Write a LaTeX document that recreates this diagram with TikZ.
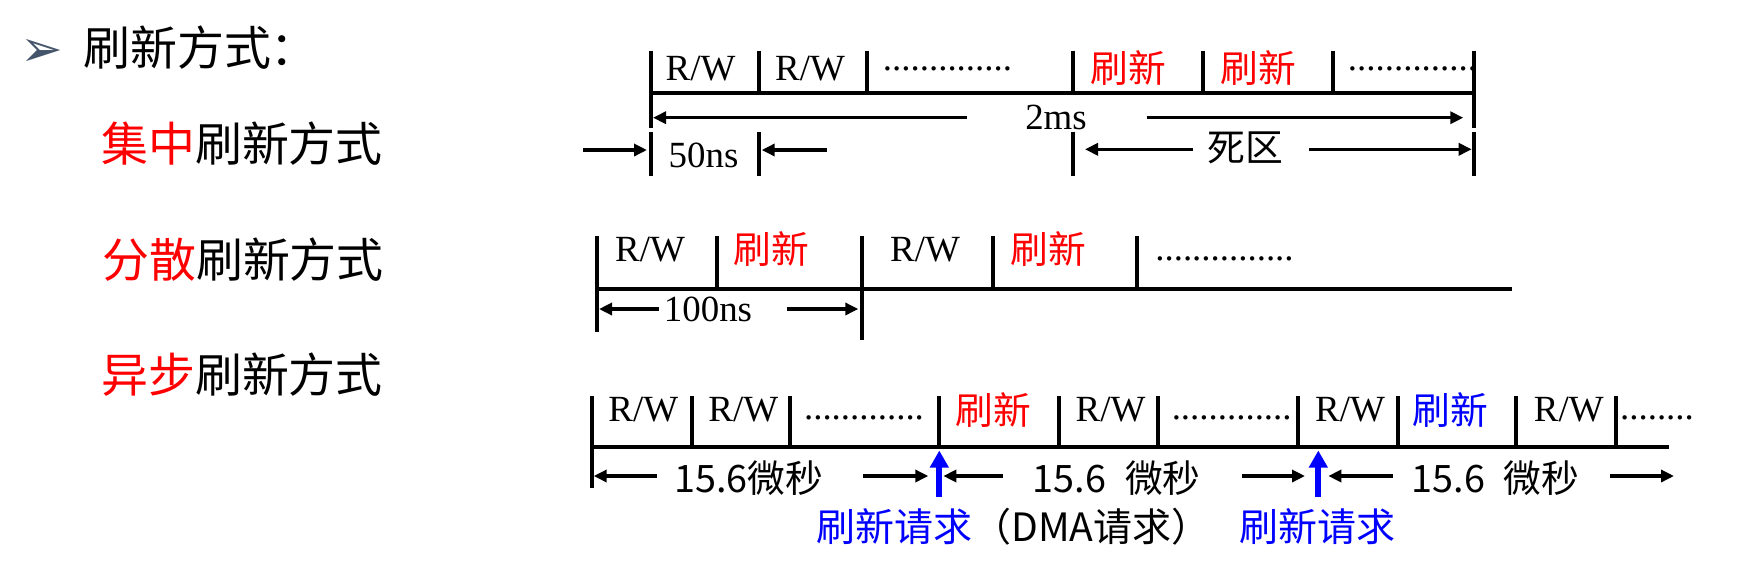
\documentclass[tikz,border=0pt]{standalone}
\usepackage{fontspec}
\usepackage{xcolor}
\setmainfont{Liberation Serif}
\newfontfamily\cjkfont{Noto Sans CJK SC}
\newfontfamily\symbolfont{DejaVu Sans}
\definecolor{bulletslate}{HTML}{44546A}
\usetikzlibrary{arrows.meta, calc}

\begin{document}
\begin{tikzpicture}[
    x=0.02cm, y=-0.02cm,
    axis/.style={line width=0.086cm},
    sepline/.style={line width=0.08cm},
    dimarrow/.style={line width=0.068cm, -{Triangle[length=0.26cm, width=0.24cm]}},
    reqarrow/.style={blue, line width=0.12cm, -{Triangle[length=0.34cm, width=0.36cm]}},
    heading/.style={font=\cjkfont\fontsize{26.7pt}{32pt}\selectfont, inner sep=0pt, anchor=west},
    slot/.style={font=\fontsize{21pt}{24pt}\selectfont, inner sep=0pt},
    slotcn/.style={font=\cjkfont\fontsize{21.5pt}{24pt}\selectfont, inner sep=0pt},
    reqlabel/.style={font=\cjkfont\fontsize{22.2pt}{26pt}\selectfont, inner sep=0pt},
]
\useasboundingbox (0,0) rectangle (1738,566);

% left column
\node[text=bulletslate, font=\symbolfont\fontsize{29pt}{32pt}\selectfont, inner sep=0pt] (bullet) at (42,53) {➢};
\node[heading] (title) at (83,48) {刷新方式：};
\node[heading] (central) at (101,144) {\textcolor{red}{集中}刷新方式};
\node[heading] (spread) at (102,260) {\textcolor{red}{分散}刷新方式};
\node[heading] (async) at (101,375) {\textcolor{red}{异步}刷新方式};

% centralized
\draw[axis] (650.7,92.7) -- (1474,92.7);
\foreach \x in {759.3, 867.3, 1073.3, 1203.3, 1333.3}
  \draw[sepline] (\x,50.7) -- (\x,92.7);
\foreach \x in {650.7, 1474}
  \draw[sepline] (\x,50.7) -- (\x,128);
\foreach \x in {650.7, 759.3, 1073.3, 1474}
  \draw[sepline] (\x,131.7) -- (\x,175.7);

\node[slot] (c1) at (700.5,69) {R/W};
\node[slot] (c2) at (810,69) {R/W};
\node[slot] (c3) at (947.5,69.3) {..............};
\node[slotcn, text=red] (c4) at (1128,68) {刷新};
\node[slotcn, text=red] (c5) at (1258,68) {刷新};
\node[slot] (c6) at (1412.5,69.3) {..............};

\node[slot] (period) at (1056,117.7) {2ms};
\coordinate (periodL) at (966.7,117.7);
\coordinate (periodLend) at (653,117.7);
\coordinate (periodR) at (1146.7,117.7);
\coordinate (periodRend) at (1463.3,117.7);
\draw[dimarrow] (periodL) -- (periodLend);
\draw[dimarrow] (periodR) -- (periodRend);

\node[slot] (cycle) at (703.5,155) {50ns};
\coordinate (cycleA) at (583,150);
\coordinate (cycleAend) at (647,150);
\coordinate (cycleB) at (826.7,150);
\coordinate (cycleBend) at (761.7,150);
\draw[dimarrow] (cycleA) -- (cycleAend);
\draw[dimarrow] (cycleB) -- (cycleBend);

\node[slotcn] (dead) at (1245.5,148.3) {死区};
\coordinate (deadL) at (1193,149.3);
\coordinate (deadLend) at (1085,149.3);
\coordinate (deadR) at (1309,149.3);
\coordinate (deadRend) at (1471.7,149.3);
\draw[dimarrow] (deadL) -- (deadLend);
\draw[dimarrow] (deadR) -- (deadRend);

% distributed
\draw[axis] (596.7,289) -- (1511.7,289);
\foreach \x in {717.3, 993.3, 1137.3}
  \draw[sepline] (\x,236) -- (\x,289);
\draw[sepline] (596.7,236) -- (596.7,331.7);
\draw[sepline] (861.7,236) -- (861.7,340);

\node[slot] (d1) at (650,250) {R/W};
\node[slotcn, text=red] (d2) at (771.5,249) {刷新};
\node[slot] (d3) at (925,250) {R/W};
\node[slotcn, text=red] (d4) at (1048,249) {刷新};
\node[slot] (d5) at (1224.5,258.7) {...............};

\node[slot] (memcycle) at (708,309.7) {100ns};
\coordinate (memL) at (659,309);
\coordinate (memLend) at (599,309);
\coordinate (memR) at (786.7,309);
\coordinate (memRend) at (858.3,309);
\draw[dimarrow] (memL) -- (memLend);
\draw[dimarrow] (memR) -- (memRend);

% asynchronous
\draw[axis] (591.7,446.7) -- (1668.7,446.7);
\foreach \x in {691.7, 790, 939.3, 1059.3, 1158.3, 1297.5, 1397.5, 1516.3, 1616.3}
  \draw[sepline] (\x,396) -- (\x,446.7);
\draw[sepline] (591.7,396) -- (591.7,488.3);

\node[slot] (a1) at (643.3,410) {R/W};
\node[slot] (a2) at (743.3,410) {R/W};
\node[slot] (a3) at (864,417.7) {.............};
\node[slotcn, text=red] (a4) at (993.3,410) {刷新};
\node[slot] (a5) at (1110.5,410) {R/W};
\node[slot] (a6) at (1231.7,417.7) {.............};
\node[slot] (a7) at (1350,410) {R/W};
\node[slotcn, text=blue] (a8) at (1450.5,410) {刷新};
\node[slot] (a9) at (1568.8,410) {R/W};
\node[slot] (a10) at (1657,417.7) {........};

\node[slotcn] (gap1) at (749,478) {15.6微秒};
\coordinate (gap1L) at (656.7,476);
\coordinate (gap1Lend) at (593.7,476);
\coordinate (gap1R) at (863.3,476);
\coordinate (gap1Rend) at (928.3,476);
\draw[dimarrow] (gap1L) -- (gap1Lend);
\draw[dimarrow] (gap1R) -- (gap1Rend);

\node[slotcn] (gap2) at (1116.7,478) {15.6\hspace{0.5em}微秒};
\coordinate (gap2L) at (1003.3,476);
\coordinate (gap2Lend) at (943.3,476);
\coordinate (gap2R) at (1241.7,476);
\coordinate (gap2Rend) at (1305,476);
\draw[dimarrow] (gap2L) -- (gap2Lend);
\draw[dimarrow] (gap2R) -- (gap2Rend);

\node[slotcn] (gap3) at (1495.5,478) {15.6\hspace{0.5em}微秒};
\coordinate (gap3L) at (1392.7,476);
\coordinate (gap3Lend) at (1328.3,476);
\coordinate (gap3R) at (1609.7,476);
\coordinate (gap3Rend) at (1674,476);
\draw[dimarrow] (gap3L) -- (gap3Lend);
\draw[dimarrow] (gap3R) -- (gap3Rend);

\coordinate (req1tail) at (939.3,496.7);
\coordinate (req1head) at (939.3,450.5);
\coordinate (req2tail) at (1318.3,496.7);
\coordinate (req2head) at (1318.3,450.5);
\draw[reqarrow] (req1tail) -- (req1head);
\draw[reqarrow] (req2tail) -- (req2head);
\node[reqlabel, anchor=west] (req1) at (816,527) {\textcolor{blue}{刷新请求}（DMA请求）};
\node[reqlabel, text=blue] (req2) at (1317,527) {刷新请求};
\end{tikzpicture}
\end{document}
